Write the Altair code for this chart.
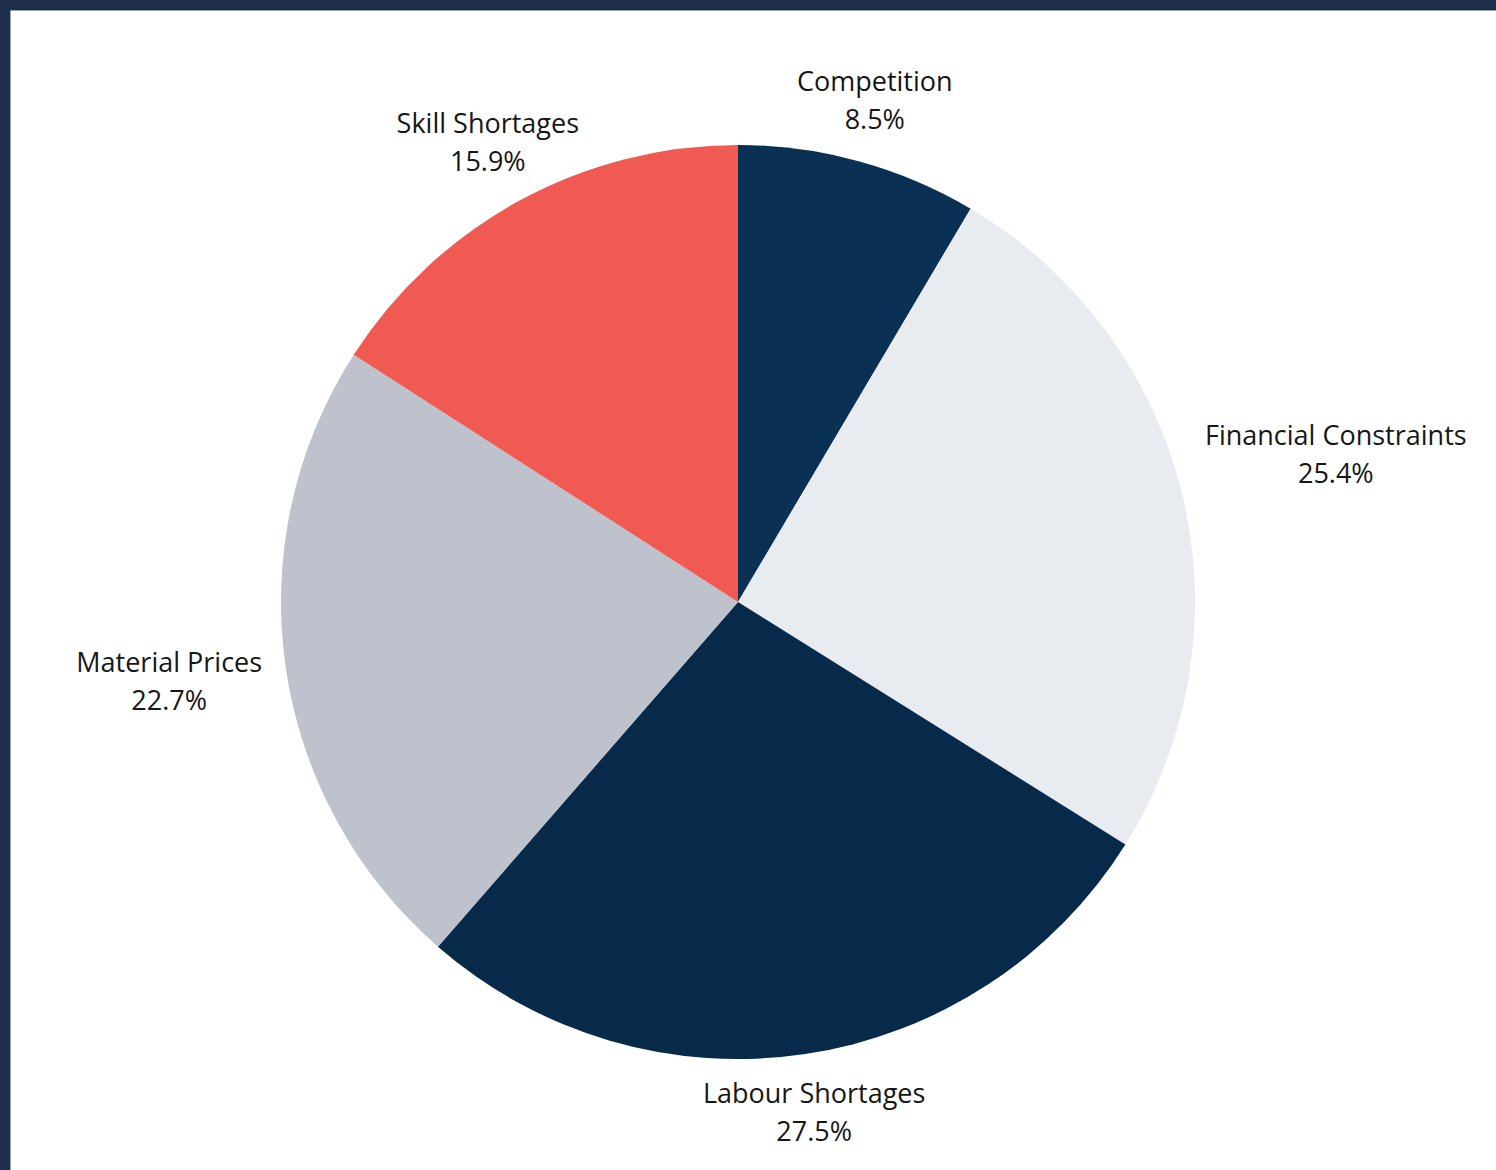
import altair as alt
import pandas as pd
import numpy as np

categories = ["Competition", "Financial Constraints", "Labour Shortages", "Material Prices", "Skill Shortages"]
values = [8.5, 25.4, 27.5, 22.7, 15.9]
colors = ["#0a3154", "#e8ebf0", "#07294a", "#bec2cc", "#f05a52"]

R = 457          # pie radius in px
FONT = 27
LINE_H = 38
GAP = 22

df = pd.DataFrame({"category": categories, "value": values, "order": list(range(len(categories)))})
df["label"] = df["category"] + "\n" + df["value"].map(lambda v: f"{v:.1f}%")

# label angle/radius derived from the slice mid-angle and approximate label extent
total = df["value"].sum()
df["mid"] = (df["value"].cumsum() - df["value"] / 2) / total * 2 * np.pi
half_w = df["category"].str.len() * 26 * 0.485 / 2
half_h = LINE_H
s = np.abs(np.sin(df["mid"])).clip(lower=1e-6)
c = np.abs(np.cos(df["mid"])).clip(lower=1e-6)
extent = np.minimum(half_w / s, half_h / c)
df["lr"] = R + GAP + extent

CX, CY = 728, 592

arcs = alt.Chart(df).mark_arc(radius=R, stroke=None).encode(
    theta=alt.Theta("value:Q", stack=True),
    order=alt.Order("order:Q"),
    x=alt.value(CX), y=alt.value(CY),
    color=alt.Color("category:N", scale=alt.Scale(domain=categories, range=colors), legend=None),
)

labels = alt.Chart(df).mark_text(
    font="Open Sans", fontSize=FONT, lineHeight=LINE_H, lineBreak="\n",
    align="center", baseline="middle", color="#161616", dy=-LINE_H / 2,
).encode(
    x=alt.value(CX), y=alt.value(CY),
    theta=alt.Theta("mid:Q", scale=None, stack=None),
    radius=alt.Radius("lr:Q", scale=None),
    text="label:N",
)

chart = alt.layer(arcs, labels).resolve_scale(theta="independent").properties(
    width=1486, height=1160,
    background="#1c2e4a",
    padding={"left": 10, "top": 10, "right": 0, "bottom": 0},
    autosize=alt.AutoSizeParams(type="none"),
).configure_view(fill="white", stroke="#9aa3b0", strokeWidth=1)

chart.save("out.html", embed_options={"renderer": "svg", "actions": False})
